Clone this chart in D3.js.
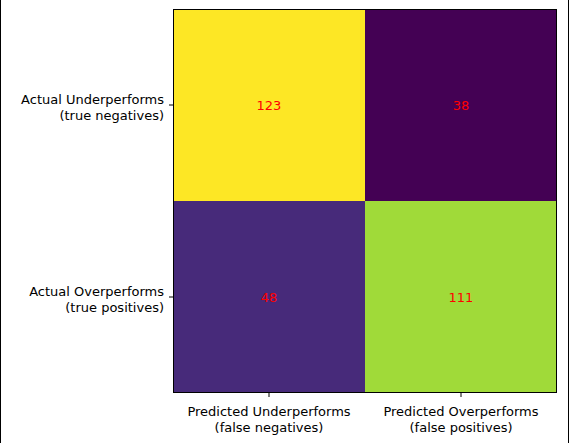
<!DOCTYPE html>
<html><head><meta charset="utf-8">
<script src="https://cdn.jsdelivr.net/npm/d3@7"></script>
<style>body{margin:0;background:#fff}text{font-family:"DejaVu Sans",sans-serif}</style>
</head><body>
<script>
var rows = [["Actual Underperforms", "(true negatives)"], ["Actual Overperforms", "(true positives)"]];
var cols = [["Predicted Underperforms", "(false negatives)"], ["Predicted Overperforms", "(false positives)"]];
var values = [[123, 38], [48, 111]];

var W = 569, H = 443, mLeft = 173, mTop = 9, size = 384;
var svg = d3.select("body").append("svg").attr("width", W).attr("height", H);

// frame edges of the figure
svg.append("line").attr("x1", 0.5).attr("x2", 0.5).attr("y1", 0).attr("y2", H).attr("stroke", "#000");
svg.append("line").attr("x1", W - 0.5).attr("x2", W - 0.5).attr("y1", 0).attr("y2", H).attr("stroke", "#000");

var x = d3.scaleBand().domain([0, 1]).range([mLeft, mLeft + size]);
var y = d3.scaleBand().domain([0, 1]).range([mTop, mTop + size]);
var flat = values.flat();
var color = d3.scaleSequential(d3.interpolateViridis).domain(d3.extent(flat));

var cells = [];
values.forEach(function(r, i) { r.forEach(function(v, j) { cells.push({i: i, j: j, v: v}); }); });

svg.selectAll("rect.cell").data(cells).enter().append("rect")
  .attr("x", function(d) { return x(d.j); })
  .attr("y", function(d) { return y(d.i); })
  .attr("width", x.bandwidth()).attr("height", y.bandwidth())
  .attr("fill", function(d) { return color(d.v); });

svg.selectAll("text.val").data(cells).enter().append("text")
  .attr("x", function(d) { return x(d.j) + x.bandwidth() / 2; })
  .attr("y", function(d) { return y(d.i) + y.bandwidth() / 2; })
  .attr("dy", "0.35em").attr("text-anchor", "middle")
  .attr("fill", "red").style("font-size", "13px")
  .text(function(d) { return d.v; });

svg.append("rect").attr("x", mLeft + 0.5).attr("y", mTop + 0.5)
  .attr("width", size - 1).attr("height", size - 1)
  .attr("fill", "none").attr("stroke", "#000");

// y ticks
rows.forEach(function(lab, i) {
  var cy = y(i) + y.bandwidth() / 2;
  svg.append("line").attr("x1", mLeft - 4).attr("x2", mLeft).attr("y1", cy).attr("y2", cy).attr("stroke", "#000");
  var t = svg.append("text").attr("text-anchor", "end").style("font-size", "13px");
  t.append("tspan").attr("x", mLeft - 9).attr("y", cy - 1).text(lab[0]);
  t.append("tspan").attr("x", mLeft - 9).attr("y", cy + 15).text(lab[1]);
});

// x ticks
cols.forEach(function(lab, j) {
  var cx = x(j) + x.bandwidth() / 2;
  svg.append("line").attr("x1", cx).attr("x2", cx).attr("y1", mTop + size).attr("y2", mTop + size + 4).attr("stroke", "#000");
  var t = svg.append("text").attr("text-anchor", "middle").style("font-size", "13px");
  t.append("tspan").attr("x", cx).attr("y", mTop + size + 23).text(lab[0]);
  t.append("tspan").attr("x", cx).attr("y", mTop + size + 39).text(lab[1]);
});
</script>
</body></html>
